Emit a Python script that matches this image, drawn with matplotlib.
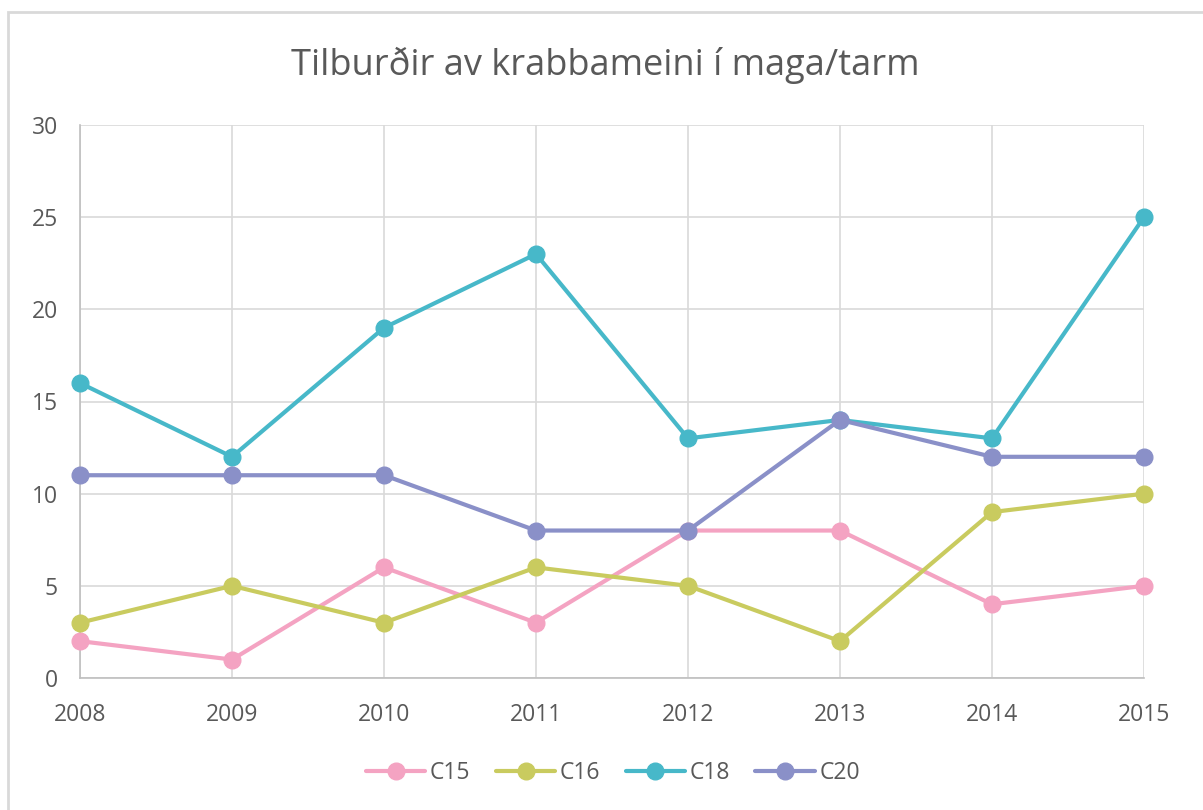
import matplotlib
matplotlib.use("Agg")
import matplotlib.pyplot as plt
from matplotlib.patches import Rectangle

# data
years = ["2008", "2009", "2010", "2011", "2012", "2013", "2014", "2015"]
c15 = [2, 1, 6, 3, 8, 8, 4, 5]
c16 = [3, 5, 3, 6, 5, 2, 9, 10]
c18 = [16, 12, 19, 23, 13, 14, 13, 25]
c20 = [11, 11, 11, 8, 8, 14, 12, 12]

series = [("C15", c15, "#F4A3C2"), ("C16", c16, "#C9CB5F"),
          ("C18", c18, "#47B8C9"), ("C20", c20, "#8A90C8")]

plt.rcParams['font.family'] = ['Open Sans', 'DejaVu Sans']
txt = "#595959"

fig = plt.figure(figsize=(12.03, 8.1), dpi=100)
W, H = 1203, 810
fig.patches.append(Rectangle((8 / W, -0.1), 1.2, 1 - 12 / H + 0.1, transform=fig.transFigure,
                             fill=False, edgecolor="#D9D9D9", linewidth=2))

ax = fig.add_axes([80 / W, 1 - 678 / H, (1144 - 80) / W, (678 - 125) / H])
x = list(range(len(years)))
for name, vals, col in series:
    ax.plot(x, vals, color=col, linewidth=3, marker="o", markersize=12,
            label=name, solid_capstyle="round", zorder=3, clip_on=False)

ax.set_xlim(0, len(years) - 1)
ax.set_ylim(0, 30)
ax.set_yticks(range(0, 31, 5))
ax.set_xticks(x)
ax.set_xticklabels(years)
ax.grid(True, color="#D9D9D9", linewidth=1.2)
ax.set_axisbelow(True)
for s in ["top", "right"]:
    ax.spines[s].set_visible(False)
for s in ["left", "bottom"]:
    ax.spines[s].set_color("#BFBFBF")
    ax.spines[s].set_linewidth(1.2)
ax.tick_params(length=0, labelsize=16.5, colors=txt)
ax.tick_params(axis="x", pad=18)
ax.tick_params(axis="y", pad=16)

fig.text(605 / W, 1 - 65 / H, "Tilburðir av krabbameini í maga/tarm", ha="center", va="center",
         fontsize=26, color=txt)

fig.legend(loc="center", bbox_to_anchor=(613 / W, 1 - 773 / H), ncol=4, frameon=False,
           fontsize=16.5, labelcolor=txt, handlelength=2.6, columnspacing=1.1, handletextpad=0.2)

fig.savefig("out.png", dpi=100)
